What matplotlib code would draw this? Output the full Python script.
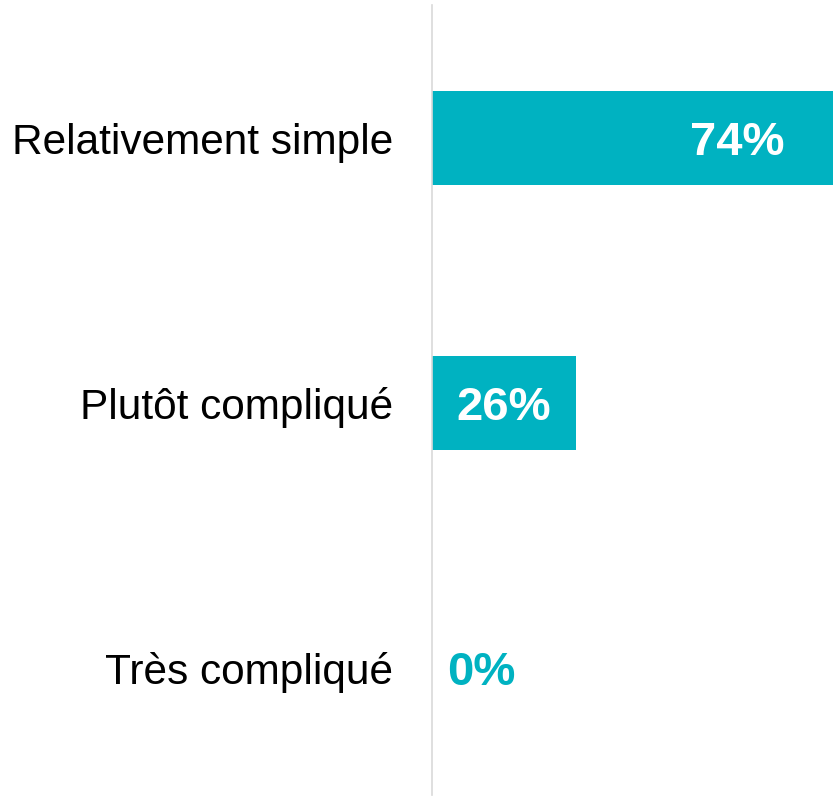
import matplotlib.pyplot as plt

categories = ["Relativement simple", "Plutôt compliqué", "Très compliqué"]
values = [74, 26, 0]
value_labels = ["74%", "26%", "0%"]

bar_color = "#00B2C1"

plt.rcParams["font.family"] = ["Liberation Sans", "DejaVu Sans"]

fig = plt.figure(figsize=(8.33, 7.96), dpi=100)
ax = fig.add_axes([432 / 833, 1 / 796, 1 - 432 / 833, 790 / 796])

y = list(range(len(categories)))
ax.barh(y, values, height=0.355, color=bar_color)

# the top bar runs off the right edge in the original
xmax = 72.4
ax.set_xlim(0, xmax)
ax.set_ylim(2.479, -0.502)

# value labels: white inside big bars, teal outside the empty one
pads = [-48, -25, 15]
for yi, v, lab, pad in zip(y, values, value_labels, pads):
    inside = v > 0
    ax.annotate(lab, (min(v, xmax), yi), xytext=(pad, 0), textcoords="offset pixels",
                ha="right" if inside else "left", va="center_baseline",
                color="white" if inside else bar_color,
                fontsize=34, fontweight="bold")

ax.set_yticks(y)
ax.set_yticklabels(categories, fontsize=30.5)
ax.tick_params(axis="y", length=0, pad=28)
ax.set_xticks([])

for s in ["top", "right", "bottom"]:
    ax.spines[s].set_visible(False)
ax.spines["left"].set_color("#d9d9d9")
ax.spines["left"].set_linewidth(1.2)

fig.savefig("out.png", dpi=100)
